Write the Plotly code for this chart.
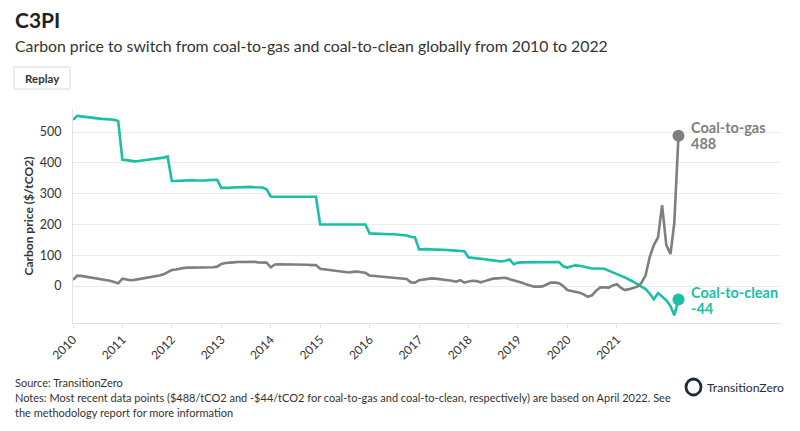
import pandas as pd
import plotly.graph_objects as go

# Monthly dates Jan 2010 .. Apr 2022
dates = pd.date_range("2010-01-01", "2022-04-01", freq="MS").strftime("%Y-%m-%d").tolist()

coal_to_clean = [
    540, 553, 551, 549, 547, 545, 544, 543, 542, 541, 540, 536,   # 2010
    410, 409, 406, 405, 406, 408, 410, 411, 412, 414, 417, 421,   # 2011
    341, 341, 342, 343, 344, 344, 343, 342, 343, 344, 345, 345,   # 2012
    319, 318, 319, 320, 321, 321, 322, 322, 321, 321, 320, 314,   # 2013
    291, 290, 290, 291, 291, 291, 290, 290, 290, 290, 290, 290,   # 2014
    200, 200, 201, 201, 201, 200, 200, 200, 200, 200, 200, 200,   # 2015
    171, 170, 170, 169, 169, 168, 168, 167, 167, 164, 160, 158,   # 2016
    119, 120, 120, 119, 119, 118, 118, 117, 116, 115, 114, 113,   # 2017
    93, 92, 91, 89, 87, 85, 83, 82, 80, 82, 86, 71,               # 2018
    76, 77, 77, 77, 77, 77, 77, 77, 78, 78, 78, 64,               # 2019
    60, 64, 67, 66, 63, 58, 57, 57, 57, 56, 50, 44,               # 2020
    37, 33, 28, 22, 14, 6, -1, -10, -25, -43, -23, -33,           # 2021
    -46, -65, -95, -44,                                           # 2022
]

coal_to_gas = [
    20, 34, 33, 31, 29, 26, 23, 22, 20, 17, 13, 9,                # 2010
    24, 22, 19, 20, 22, 25, 27, 29, 31, 34, 38, 44,               # 2011
    52, 54, 57, 59, 60, 60, 60, 61, 61, 60, 61, 63,               # 2012
    72, 75, 77, 77, 78, 78, 79, 80, 79, 77, 77, 76,               # 2013
    61, 70, 71, 71, 71, 71, 70, 70, 69, 69, 68, 68,               # 2014
    56, 54, 52, 50, 49, 47, 45, 44, 46, 47, 45, 43,               # 2015
    34, 33, 32, 30, 28, 27, 26, 25, 24, 23, 12, 11,               # 2016
    19, 21, 23, 25, 24, 23, 21, 19, 17, 14, 19, 11,               # 2017
    15, 17, 16, 12, 16, 20, 24, 25, 25, 27, 22, 19,               # 2018
    15, 11, 6, 1, -2, -2, -1, 5, 11, 11, 9, 0,                    # 2019
    -13, -16, -18, -22, -27, -35, -30, -15, -4, -4, -5, 2,        # 2020
    6, -6, -13, -10, -7, -2, 10, 35, 95, 133, 158, 263,           # 2021
    133, 104, 204, 488,                                           # 2022
]

series_names = ["Coal-to-gas", "Coal-to-clean"]
year_labels = [str(y) for y in range(2010, 2022)]
year_ticks = [f"{y}-01-01" for y in range(2010, 2022)]
y_ticks = [0, 100, 200, 300, 400, 500]

TEAL = "#1bbfa6"
GRAY = "#7f7f7f"
FONT = "Lato"

L, R, T, B = 73, 20, 109, 108
PW, PH = 800 - L - R, 431 - T - B

fig = go.Figure()
fig.add_trace(go.Scatter(x=dates, y=coal_to_clean, mode="lines", name=series_names[1],
                         line=dict(color=TEAL, width=2.6), hoverinfo="skip"))
fig.add_trace(go.Scatter(x=dates, y=coal_to_gas, mode="lines", name=series_names[0],
                         line=dict(color=GRAY, width=2.6), hoverinfo="skip"))
fig.add_trace(go.Scatter(x=[dates[-1]], y=[coal_to_gas[-1]], mode="markers",
                         marker=dict(color=GRAY, size=12), hoverinfo="skip"))
fig.add_trace(go.Scatter(x=[dates[-1]], y=[coal_to_clean[-1]], mode="markers",
                         marker=dict(color=TEAL, size=12), hoverinfo="skip"))


def px(x, y, text, size, color="#333333", xanchor="left", yanchor="middle", bold=False, family=FONT):
    t = f"<b>{text}</b>" if bold else text
    return dict(x=(x - L) / PW, y=(431 - B - y) / PH, xref="paper", yref="paper",
                xanchor=xanchor, yanchor=yanchor, showarrow=False, text=t, align="left",
                font=dict(family=family, size=size, color=color))


def sx(x):
    return (x - L) / PW


def sy(y):
    return (431 - B - y) / PH


def end_label(yval, text, color, yshift):
    return dict(x=dates[-1], y=yval, xref="x", yref="y", xanchor="left", yanchor="middle",
                xshift=12, yshift=yshift, showarrow=False, align="left", borderpad=0,
                text=f"<b>{text}</b>", font=dict(family=FONT, size=14.5, color=color))


annotations = [
    end_label(coal_to_gas[-1], series_names[0], GRAY, 8),
    end_label(coal_to_gas[-1], str(coal_to_gas[-1]), GRAY, -8),
    end_label(coal_to_clean[-1], series_names[1], TEAL, 7),
    end_label(coal_to_clean[-1], str(coal_to_clean[-1]), TEAL, -9),
    px(13, 20, "C3PI", 21, "#222222", bold=True),
    px(13, 45, "Carbon price to switch from coal-to-gas and coal-to-clean globally from 2010 to 2022", 15.8, "#333333"),
    px(42, 78, "Replay", 11.5, "#333333", xanchor="center", bold=True),
    px(13, 382, "Source: TransitionZero", 11, "#333333"),
    px(13, 397.5, "Notes: Most recent data points ($488/tCO2 and -$44/tCO2 for coal-to-gas and coal-to-clean, respectively) are based on April 2022. See", 11, "#333333"),
    px(13, 412.5, "the methodology report for more information", 11, "#333333"),
    px(705, 387, "TransitionZero", 12.2, "#2a2a3a"),
]

fig.update_layout(
    width=800, height=431,
    margin=dict(l=L, r=R, t=T, b=B),
    paper_bgcolor="white", plot_bgcolor="white",
    showlegend=False,
    font=dict(family=FONT, size=12, color="#333333"),
    xaxis=dict(
        type="date", range=["2010-01-01", "2024-04-20"], automargin=False,
        tickvals=year_ticks, ticktext=year_labels, tickangle=-45,
        showgrid=False, zeroline=False,
        showline=True, linecolor="#e3e3e3", linewidth=1,
        ticks="outside", ticklen=4, tickcolor="#e3e3e3",
        tickfont=dict(family=FONT, size=12, color="#333333"),
    ),
    yaxis=dict(
        range=[-120, 575], tickvals=y_ticks, automargin=False,
        showgrid=True, gridcolor="#ebebeb", gridwidth=1,
        zeroline=False, showline=True, linecolor="#e3e3e3", linewidth=1,
        ticks="", ticklabelstandoff=8,
        tickfont=dict(family=FONT, size=12.5, color="#333333"),
        title=dict(text="<b>Carbon price ($/tCO2)</b>", standoff=3,
                   font=dict(family=FONT, size=12, color="#333333")),
    ),
    annotations=annotations,
    shapes=[
        dict(type="rect", xref="paper", yref="paper", x0=sx(14), x1=sx(70), y0=sy(89), y1=sy(67),
             line=dict(color="#d9d9d9", width=1), fillcolor="white"),
        dict(type="circle", xref="paper", yref="paper", x0=sx(686), x1=sx(701), y0=sy(395), y1=sy(379),
             line=dict(color="#1e2a3a", width=2.8), fillcolor="rgba(0,0,0,0)"),
    ],
)

fig.write_html("out.html", config={"displayModeBar": False},
               post_script="document.body.style.margin='0';")
